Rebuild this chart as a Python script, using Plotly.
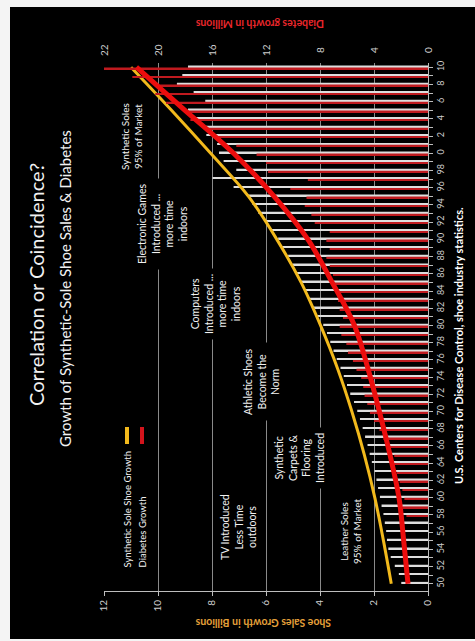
import plotly.graph_objects as go

# ---- data -------------------------------------------------------------
years = list(range(1950, 2011))

# synthetic-sole shoe sales, billions (one bar per year)
shoe_sales = [
    0.99, 1.08, 1.23, 1.38, 1.47, 1.52, 1.55, 1.60, 1.65, 1.72,   # 1950-59
    1.78, 1.85, 1.91, 1.98, 2.08, 2.16, 2.24, 2.33, 2.42, 2.52,   # 1960-69
    2.62, 2.74, 2.88, 3.00, 3.12, 3.24, 3.38, 3.50, 3.62, 3.74,   # 1970-79
    3.88, 4.10, 4.25, 4.40, 4.55, 4.68, 4.85, 5.02, 5.18, 5.40,   # 1980-89
    5.55, 5.78, 6.05, 6.28, 6.50, 6.70, 7.20, 7.98, 7.10, 7.57,   # 1990-99
    7.74, 7.81, 8.21, 8.23, 8.60, 8.89, 8.25, 8.68, 9.30, 9.10,   # 2000-09
    8.89,                                                          # 2010
]

# diabetes cases, millions (no figures before 1958)
diabetes = [
    None, None, None, None, None, None, None, None, 1.60, 1.90,   # 1950-59
    1.75, 1.90, 2.10, 2.30, 2.60, 2.50, 2.95, 3.30, 3.60, 4.00,   # 1960-69
    4.30, 4.50, 4.70, 4.80, 4.95, 5.30, 5.56, 5.93, 6.05, 6.42,   # 1970-79
    6.54, 6.30, 6.54, 6.67, 6.79, 7.04, 7.04, 7.28, 7.53, 7.28,   # 1980-89
    7.53, 7.28, 8.39, 8.64, 9.13, 9.00, 10.20, 8.90, 11.85, 12.00,  # 1990-99
    12.70, 14.20, 15.60, 16.60, 17.60, 17.80, 19.40, 20.20, 19.90, 21.90,  # 2000-09
    24.00,                                                         # 2010
]

# growth trend lines
trend_years = [1950, 1955, 1960, 1965, 1970, 1975, 1980, 1985, 1990, 1995, 2000, 2005, 2010]
shoe_trend = [1.36, 1.65, 1.97, 2.36, 2.82, 3.35, 3.98, 4.70, 5.60, 6.65, 8.05, 9.50, 11.00]
diabetes_trend = [1.48, 1.80, 2.15, 2.82, 3.60, 4.45, 5.45, 7.10, 8.90, 11.40, 14.40, 18.00, 21.60]

shoe_ticks = [0, 2, 4, 6, 8, 10, 12]
diabetes_tickvals = [0, 4, 8, 12, 16, 20, 24]
diabetes_ticktext = ["0", "4", "8", "12", "16", "20", "22"]
year_tickvals = list(range(1950, 2011, 2))
year_ticktext = [str(y % 100) for y in year_tickvals]

# ---- page geometry ----------------------------------------------------
W, H = 475, 641
ML, MR, MT, MB = 104, 47, 63, 50
PW, PH = W - ML - MR, H - MT - MB


def px(x):
    return (x - ML) / PW


def py(y):
    return (H - MB - y) / PH


FONT = "Lato"
fig = go.Figure()

fig.add_trace(go.Bar(
    y=years, x=shoe_sales, orientation="h", xaxis="x", yaxis="y",
    marker=dict(color="#dedede", line=dict(width=0)),
    width=0.19, offset=0.02, showlegend=False, hoverinfo="skip",
))
fig.add_trace(go.Scatter(
    x=shoe_trend, y=trend_years, mode="lines", xaxis="x", yaxis="y",
    line=dict(color="#f2b91c", width=3, shape="spline"),
    showlegend=False, hoverinfo="skip",
))
fig.add_trace(go.Bar(
    y=years, x=diabetes, orientation="h", xaxis="x2", yaxis="y",
    marker=dict(color="#c01a1f", line=dict(width=0)),
    width=0.19, offset=-0.21, showlegend=False, hoverinfo="skip",
))
fig.add_trace(go.Scatter(
    x=diabetes_trend, y=trend_years, mode="lines", xaxis="x2", yaxis="y",
    line=dict(color="#ec0d0d", width=5, shape="spline"),
    showlegend=False, hoverinfo="skip",
))

tick_font = dict(family=FONT, size=10, color="#cfcfcf")

fig.update_layout(
    width=W, height=H,
    margin=dict(l=ML, r=MR, t=MT, b=MB, pad=0),
    paper_bgcolor="black", plot_bgcolor="black",
    barmode="overlay",
    xaxis=dict(
        range=[12, 0], tickmode="array", tickvals=shoe_ticks, tickangle=-90,
        showgrid=True, gridcolor="#8a8a8a", gridwidth=1,
        showline=True, linecolor="#bdbdbd", linewidth=1,
        ticks="outside", ticklen=4, tickcolor="#bdbdbd",
        tickfont=tick_font, zeroline=False, fixedrange=True,
    ),
    xaxis2=dict(
        range=[24, 0], overlaying="x", side="top", anchor="y",
        showticklabels=False, showgrid=False, showline=False, ticks="",
        zeroline=False, fixedrange=True,
    ),
    yaxis=dict(
        range=[1949.15, 2010.49], side="right",
        tickmode="array", tickvals=year_tickvals, ticktext=year_ticktext,
        tickangle=-90, showgrid=False, zeroline=False,
        showline=True, linecolor="#bdbdbd", linewidth=1,
        ticks="outside", ticklen=4, tickcolor="#bdbdbd",
        minor=dict(tickvals=years, ticks="outside", ticklen=4, tickcolor="#bdbdbd"),
        tickfont=dict(family=FONT, size=9, color="#cfcfcf"), fixedrange=True,
    ),
)

annotations = []

# diabetes scale labels along the top edge, placed on the x2 scale
for val, txt in zip(diabetes_tickvals, diabetes_ticktext):
    annotations.append(dict(
        text=txt, x=val, y=py(50), xref="x2", yref="paper", showarrow=False,
        textangle=-90, xanchor="center", yanchor="middle",
        font=tick_font,
    ))


def note(text, x, y, size=10.5, color="#f2f2f2", bold=False, angle=-90,
         bg=None, xanchor="center", yanchor="middle"):
    if bold:
        text = "<b>" + text + "</b>"
    annotations.append(dict(
        text=text, x=px(x), y=py(y), xref="paper", yref="paper",
        showarrow=False, textangle=angle, xanchor=xanchor, yanchor=yanchor,
        font=dict(family=FONT, size=size, color=color), align="center",
        bgcolor=bg, borderpad=5,
    ))


# titles
note("Correlation or Coincidence?", 36, 285, size=20)
note("Growth of Synthetic-Sole Shoe Sales &amp; Diabetes", 65, 289, size=15)
note("U.S. Centers for Disease Control, shoe industry statistics.", 458, 346,
     size=11, bold=True, color="#ffffff")
note("Diabetes growth in Millions", 260, 24, size=10.5, bold=True,
     color="#e8262b", angle=180)
note("Shoe Sales Growth in Billions", 263, 623, size=10.5, bold=True,
     color="#e6a03a", angle=180)

# milestones along the timeline
note("Synthetic Soles<br>95% of Market", 131, 137, size=10, bg="black")
note("Electronic Games<br>Introduced ...<br>more time<br>indoors", 162, 224, size=10.5, bg="black")
note("Computers<br>Introduced ...<br>more time<br>indoors", 215, 304, size=10.5, bg="black")
note("Athletic Shoes<br>Become the<br>Norm", 261, 382, size=10.5, bg="black")
note("Synthetic<br>Carpets &amp;<br>Flooring<br>Introduced", 299, 458, size=10.5, bg="black")
note("TV Introduced<br>Less Time<br>outdoors", 238, 527, size=10.5, bg="black")
note("Leather Soles<br>95% of Market", 350, 532, size=10, bg="black")

# key
note("Synthetic Sole Shoe Growth", 127, 574, size=9.5, yanchor="bottom")
note("Diabetes Growth", 142, 574, size=9.5, yanchor="bottom")

fig.update_layout(annotations=annotations)

shapes = [
    # key swatches
    dict(type="line", xref="paper", yref="paper", x0=px(127), x1=px(127),
         y0=py(427), y1=py(444), line=dict(color="#f2b91c", width=4)),
    dict(type="line", xref="paper", yref="paper", x0=px(142), x1=px(142),
         y0=py(427), y1=py(444), line=dict(color="#d3141c", width=4)),
    # light page edges
    dict(type="rect", xref="paper", yref="paper", x0=px(-5), x1=px(10),
         y0=py(700), y1=py(-10), fillcolor="#f4f4f4", line=dict(width=0), layer="below"),
    dict(type="rect", xref="paper", yref="paper", x0=px(-5), x1=px(480),
         y0=py(7), y1=py(-10), fillcolor="#f4f4f4", line=dict(width=0), layer="below"),
    dict(type="rect", xref="paper", yref="paper", x0=px(-5), x1=px(480),
         y0=py(700), y1=py(639), fillcolor="#f4f4f4", line=dict(width=0), layer="below"),
]
fig.update_layout(shapes=shapes)

fig.write_html("out.html")
